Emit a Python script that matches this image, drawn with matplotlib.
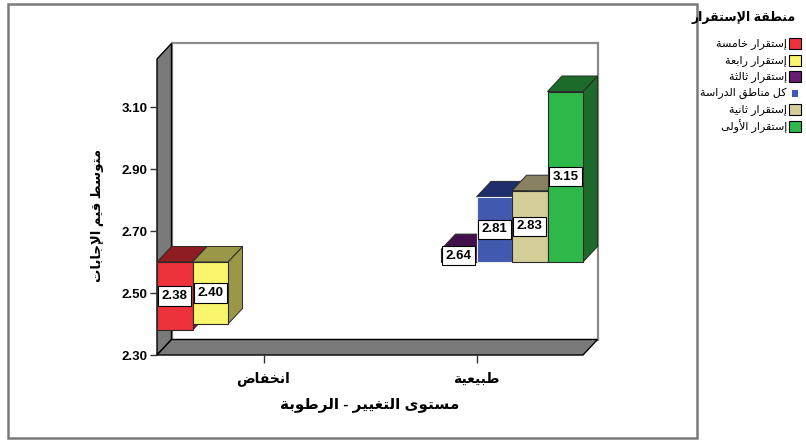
import matplotlib
matplotlib.use("Agg")
import matplotlib.pyplot as plt
from matplotlib.patches import Polygon, Rectangle

plt.rcParams['font.family'] = ['Liberation Sans', 'DejaVu Sans']

# ---------------------------------------------------------------- data
categories = ["انخفاض", "طبيعية"]
regions = ["إستقرار خامسة", "إستقرار رابعة", "إستقرار ثالثة",
           "كل مناطق الدراسة", "إستقرار ثانية", "إستقرار الأولى"]
region_category = [0, 0, 1, 1, 1, 1]
means = [2.38, 2.40, 2.64, 2.81, 2.83, 3.15]
yticks = [2.30, 2.50, 2.70, 2.90, 3.10]
bar_base = 2.60

legend_title = "منطقة الإستقرار"
x_title = "مستوى التغيير - الرطوبة"
y_title = "متوسط قيم الإجابات"

front_colors = ["#EE323C", "#F9F66E", "#6B1C70", "#4159AE", "#D6CE98", "#2EB84A"]
shade_colors = ["#8E1C22", "#9A9846", "#42104A", "#1F2F6E", "#898262", "#1D6B2A"]

# ---------------------------------------------------------------- arabic shaping
_DUAL = {'ب': 0xFE8F, 'ت': 0xFE95, 'ث': 0xFE99, 'ج': 0xFE9D, 'ح': 0xFEA1,
         'خ': 0xFEA5, 'س': 0xFEB1, 'ش': 0xFEB5, 'ص': 0xFEB9, 'ض': 0xFEBD,
         'ط': 0xFEC1, 'ظ': 0xFEC5, 'ع': 0xFEC9, 'غ': 0xFECD, 'ف': 0xFED1,
         'ق': 0xFED5, 'ك': 0xFED9, 'ل': 0xFEDD, 'م': 0xFEE1, 'ن': 0xFEE5,
         'ه': 0xFEE9, 'ي': 0xFEF1, 'ئ': 0xFE89}
_RIGHT = {'آ': 0xFE81, 'أ': 0xFE83, 'ؤ': 0xFE85, 'إ': 0xFE87, 'ا': 0xFE8D,
          'ة': 0xFE93, 'د': 0xFEA9, 'ذ': 0xFEAB, 'ر': 0xFEAD, 'ز': 0xFEAF,
          'و': 0xFEED, 'ى': 0xFEEF}
_LAMALEF = {'آ': 0xFEF5, 'أ': 0xFEF7, 'إ': 0xFEF9, 'ا': 0xFEFB}


def ar(text):
    """Contextual shaping + visual (right-to-left) ordering."""
    units, i = [], 0
    while i < len(text):
        c = text[i]
        if c == 'ل' and i + 1 < len(text) and text[i + 1] in _LAMALEF:
            units.append(('LA', text[i + 1]))
            i += 2
        else:
            units.append(('C', c))
            i += 1

    def is_letter(u):
        return u[0] == 'LA' or u[1] in _DUAL or u[1] in _RIGHT

    def joins_next(u):
        return u[0] == 'C' and u[1] in _DUAL

    out = []
    for k, u in enumerate(units):
        prev = units[k - 1] if k > 0 else None
        nxt = units[k + 1] if k + 1 < len(units) else None
        jp = prev is not None and joins_next(prev) and is_letter(u)
        kind, c = u
        if kind == 'LA':
            out.append(chr(_LAMALEF[c] + (1 if jp else 0)))
        elif c in _DUAL:
            jn = nxt is not None and is_letter(nxt)
            form = 3 if (jp and jn) else 1 if jp else 2 if jn else 0
            out.append(chr(_DUAL[c] + form))
        elif c in _RIGHT:
            out.append(chr(_RIGHT[c] + (1 if jp else 0)))
        else:
            out.append(c)
    return ''.join(reversed(out))


# ---------------------------------------------------------------- figure
W, H = 806, 440
fig = plt.figure(figsize=(W / 100, H / 100), dpi=100)

ax_left, ax_bottom, ax_w, ax_h = 157, 85, 426, 296
ax = fig.add_axes([ax_left / W, ax_bottom / H, ax_w / W, ax_h / H])
ax.set_xlim(-0.5, 1.5)
ax.set_ylim(2.30, 2.30 + ax_h / 310)
ax.patch.set_visible(False)
for s in ax.spines.values():
    s.set_visible(False)

# depth of the pseudo-3D box (pixels) in axes / data units
DX, DY = 14.5, 15.5
dxa, dya = DX / ax_w, DY / ax_h
ddx = DX * (ax.get_xlim()[1] - ax.get_xlim()[0]) / ax_w
ddy = DY * (ax.get_ylim()[1] - ax.get_ylim()[0]) / ax_h

# back wall, left wall and floor
ax.add_patch(Rectangle((dxa, dya), 1, 1, transform=ax.transAxes, clip_on=False,
                       facecolor="white", edgecolor="#8a8a8a", lw=1.6, zorder=0))
ax.add_patch(Polygon([(0, 0), (0, 1), (dxa, 1 + dya), (dxa, dya)], closed=True,
                     transform=ax.transAxes, clip_on=False,
                     facecolor="#7a7a7a", edgecolor="black", lw=1.0, zorder=1))
ax.add_patch(Polygon([(0, 0), (1, 0), (1 + dxa, dya), (dxa, dya)], closed=True,
                     transform=ax.transAxes, clip_on=False,
                     facecolor="#7a7a7a", edgecolor="black", lw=1.0, zorder=1))

# bars: one slot per region inside each category cluster
n = len(regions)
w = 1.0 / n
for i, (cat, v) in enumerate(zip(region_category, means)):
    xc = cat + (i - (n - 1) / 2) * w
    x0 = xc - w / 2
    yt, yb = max(v, bar_base), min(v, bar_base)
    z = 3 + 2 * i
    edge = "#e8ecf8" if i == 3 else "#2a2a2a"
    side = Polygon([(x0 + w, yb), (x0 + w, yt), (x0 + w + ddx, yt + ddy),
                    (x0 + w + ddx, yb + ddy)], closed=True, clip_on=False,
                   facecolor=shade_colors[i], edgecolor="#2a2a2a", lw=0.7, zorder=z)
    top = Polygon([(x0, yt), (x0 + w, yt), (x0 + w + ddx, yt + ddy),
                   (x0 + ddx, yt + ddy)], closed=True, clip_on=False,
                  facecolor=shade_colors[i], edgecolor="#2a2a2a", lw=0.7, zorder=z)
    ax.add_patch(side)
    ax.add_patch(top)
    ax.bar(xc, v - bar_base, bottom=bar_base, width=w, color=front_colors[i],
           edgecolor=edge, lw=0.8, zorder=z + 1, clip_on=False)
    ax.text(xc, (v + bar_base) / 2, f"{v:.2f}", ha="center", va="center",
            fontsize=9.5, fontweight="bold", zorder=30,
            bbox=dict(boxstyle="square,pad=0.28", facecolor="white",
                      edgecolor="black", lw=0.8))

# axes ticks
ax.set_yticks(yticks)
ax.set_yticklabels([f"{t:.2f}" for t in yticks], fontsize=9.5, fontweight="bold")
ax.set_xticks(range(len(categories)))
ax.set_xticklabels([ar(c) for c in categories], fontsize=10, fontweight="bold")
ax.tick_params(axis="y", length=5, width=1, color="#333333", pad=2)
ax.tick_params(axis="x", length=6, width=1, color="#333333", pad=6)

fig.text(370 / W, 1 - 405 / H, ar(x_title), ha="center", va="center",
         fontsize=11, fontweight="bold")
fig.text(97 / W, 1 - 215 / H, ar(y_title), ha="center", va="center",
         rotation=90, fontsize=9.5, fontweight="bold")

# chart border
fig.add_artist(Rectangle((8 / W, 1 - 438 / H), 689 / W, 434 / H,
                         transform=fig.transFigure, fill=False,
                         edgecolor="#7a7a7a", lw=1.8))

# legend
fig.text(796 / W, 1 - 17 / H, ar(legend_title), ha="right", va="center",
         fontsize=9, fontweight="bold")
for i, (lab, col) in enumerate(zip(regions, front_colors)):
    yc = 44 + 16.5 * i
    if i == 3:
        sw, sh, ec = 6, 6, "none"
    else:
        sw, sh, ec = 12, 11, "black"
    xc_sw = 795
    fig.add_artist(Rectangle(((xc_sw - sw / 2) / W, 1 - (yc + sh / 2) / H),
                             sw / W, sh / H, transform=fig.transFigure,
                             facecolor=col, edgecolor=ec, lw=0.8))
    fig.text(787 / W, 1 - yc / H, ar(lab), ha="right", va="center", fontsize=8)

fig.savefig("out.png", dpi=100)
